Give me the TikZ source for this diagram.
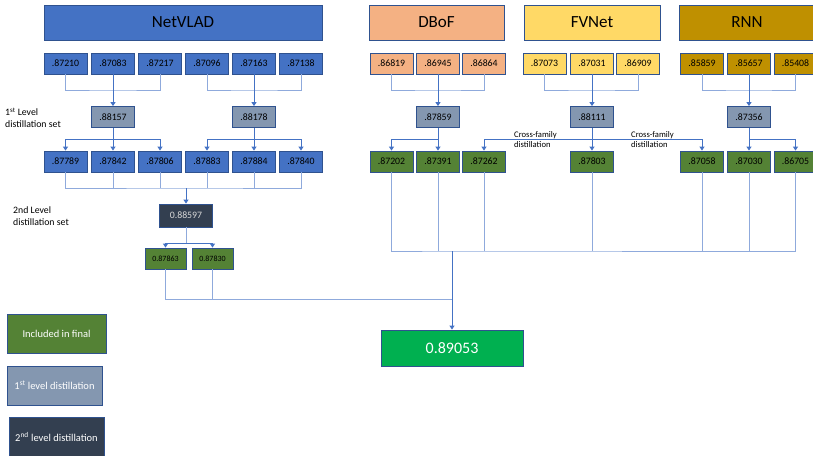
\documentclass[tikz,border=0pt]{standalone}
\usepackage{fontspec}
\setmainfont{Carlito}
\usetikzlibrary{arrows.meta}
\definecolor{netblue}{HTML}{4472C4}
\definecolor{dbofor}{HTML}{F4B183}
\definecolor{fvyel}{HTML}{FFD966}
\definecolor{rnngold}{HTML}{BF9000}
\definecolor{distgrey}{HTML}{8497B0}
\definecolor{distdark}{HTML}{333F50}
\definecolor{inclgreen}{HTML}{548235}
\definecolor{finalgreen}{HTML}{00B050}
\definecolor{edgeblue}{HTML}{2F528F}
\definecolor{wireblue}{HTML}{8FAADC}

\begin{document}
\begin{tikzpicture}[x=1pt,y=-1pt,
  box/.style={draw=edgeblue,line width=0.8pt,minimum width=43pt,minimum height=21pt,inner sep=0pt,font=\fontsize{9.8}{12}\selectfont},
  head/.style={draw=edgeblue,line width=0.8pt,minimum width=136pt,minimum height=35pt,inner sep=0pt,font=\fontsize{17}{20}\selectfont},
  wire/.style={draw=wireblue,line width=0.8pt},
  feed/.style={draw=netblue,line width=1pt,-{Triangle[length=4pt,width=5pt]}},
  note/.style={align=left,anchor=west,inner sep=0pt,font=\fontsize{9.8}{11.5}\selectfont},
  legend/.style={box,text=white,minimum width=95pt,minimum height=39pt,font=\fontsize{10.5}{12}\selectfont}]
\useasboundingbox (0,0) rectangle (813,455);
%HEADERS
\node[head,fill=netblue,minimum width=278pt] (hnet) at (183,22.5) {NetVLAD};
\node[head,fill=dbofor,minimum width=135pt] (hdbof) at (436.5,22.5) {DBoF};
\node[head,fill=fvyel] (hfv) at (592,22.5) {FVNet};
\node[head,fill=rnngold] (hrnn) at (747,22.5) {RNN};
%NetVLAD
\node[box,fill=netblue] (n1) at (65.5,63.5) {.87210};
\node[box,fill=netblue] (n2) at (113,63.5) {.87083};
\node[box,fill=netblue] (n3) at (160,63.5) {.87217};
\node[box,fill=netblue] (n4) at (207,63.5) {.87096};
\node[box,fill=netblue] (n5) at (254,63.5) {.87163};
\node[box,fill=netblue] (n6) at (301,63.5) {.87138};
\node[box,fill=distgrey] (nd1) at (113,117) {.88157};
\node[box,fill=distgrey] (nd2) at (254,117) {.88178};
\node[box,fill=netblue] (nf1) at (65.5,161.5) {.87789};
\node[box,fill=netblue] (nf2) at (113,161.5) {.87842};
\node[box,fill=netblue] (nf3) at (160,161.5) {.87806};
\node[box,fill=netblue] (nf4) at (207,161.5) {.87883};
\node[box,fill=netblue] (nf5) at (254,161.5) {.87884};
\node[box,fill=netblue] (nf6) at (301,161.5) {.87840};
%DBoF
\node[box,fill=dbofor] (d1) at (391.5,63.5) {.86819};
\node[box,fill=dbofor] (d2) at (438,63.5) {.86945};
\node[box,fill=dbofor] (d3) at (484,63.5) {.86864};
\node[box,fill=distgrey] (dd) at (438,117) {.87859};
\node[box,fill=inclgreen] (df1) at (391.5,161.5) {.87202};
\node[box,fill=inclgreen] (df2) at (438,161.5) {.87391};
\node[box,fill=inclgreen] (df3) at (484,161.5) {.87262};
%FVNet
\node[box,fill=fvyel] (f1) at (544.5,63.5) {.87073};
\node[box,fill=fvyel] (f2) at (592,63.5) {.87031};
\node[box,fill=fvyel] (f3) at (638,63.5) {.86909};
\node[box,fill=distgrey] (fd) at (592,117) {.88111};
\node[box,fill=inclgreen] (ff) at (592,161.5) {.87803};
%RNN
\node[box,fill=rnngold] (r1) at (702,63.5) {.85859};
\node[box,fill=rnngold] (r2) at (749,63.5) {.85657};
\node[box,fill=rnngold] (r3) at (795.5,63.5) {.85408};
\node[box,fill=distgrey] (rd) at (749,117) {.87356};
\node[box,fill=inclgreen] (rf1) at (702,161.5) {.87058};
\node[box,fill=inclgreen] (rf2) at (749,161.5) {.87030};
\node[box,fill=inclgreen] (rf3) at (795.5,161.5) {.86705};
%2nd level
\node[box,fill=distdark,text=black!15,minimum width=53pt,minimum height=23pt] (n2nd) at (186,215.5) {0.88597};
\node[box,fill=inclgreen,minimum width=41pt,font=\fontsize{8}{9}\selectfont] (ns1) at (165.5,258.5) {0.87863};
\node[box,fill=inclgreen,minimum width=41pt,font=\fontsize{8}{9}\selectfont] (ns2) at (212.5,258.5) {0.87830};
%final
\node[box,fill=finalgreen,text=white,minimum width=142pt,minimum height=36pt,font=\fontsize{16}{19}\selectfont] (final) at (452,348) {0.89053};
%labels
\node[note] (lab1) at (5,117.5) {1\textsuperscript{st} Level\\distillation set};
\node[note] (lab2) at (13,216) {2nd Level\\distillation set};
\node[note,font=\fontsize{8.6}{10}\selectfont] (xlab1) at (514,139.5) {Cross-family\\distillation};
\node[note,font=\fontsize{8.6}{10}\selectfont] (xlab2) at (631,139.5) {Cross-family\\distillation};
%legend
\node[legend,fill=inclgreen,minimum width=99pt] (leg1) at (56.5,333.5) {Included in final};
\node[legend,fill=distgrey] (leg2) at (54.5,385.5) {1\textsuperscript{st} level distillation};
\node[legend,fill=distdark,minimum height=40pt] (leg3) at (56.5,437) {2\textsuperscript{nd} level distillation};
%junctions
\coordinate (busA) at (113,90);
\coordinate (busB) at (254,90);
\coordinate (busD) at (438,90);
\coordinate (busF) at (592,90);
\coordinate (busR) at (749,90);
\coordinate (fanA) at (113,139);
\coordinate (fanB) at (254,139);
\coordinate (fanD) at (438,139);
\coordinate (fanF) at (592,139);
\coordinate (fanR) at (749,139);
\coordinate (merge) at (186,188);
\coordinate (fan2) at (186,243);
\coordinate (trunk) at (452,251);
\coordinate (join) at (452,299);
%first level
\draw[wire] (n1.south) |- (busA) -| (n3.south);
\draw[wire] (n4.south) |- (busB) -| (n6.south);
\draw[wire] (d1.south) |- (busD) -| (d3.south);
\draw[wire] (f1.south) |- (busF) -| (f3.south);
\draw[wire] (r1.south) |- (busR) -| (r3.south);
\draw[feed] (n2.south) -- (nd1.north);
\draw[feed] (n5.south) -- (nd2.north);
\draw[feed] (d2.south) -- (dd.north);
\draw[feed] (f2.south) -- (fd.north);
\draw[feed] (r2.south) -- (rd.north);
%fan out
\draw[feed] (nd1.south) -- (nf2.north);
\draw[feed] (fanA) -| (nf1.north);
\draw[feed] (fanA) -| (nf3.north);
\draw[feed] (nd2.south) -- (nf5.north);
\draw[feed] (fanB) -| (nf4.north);
\draw[feed] (fanB) -| (nf6.north);
\draw[feed] (dd.south) -- (df2.north);
\draw[feed] (fanD) -| (df1.north);
\draw[feed] (fd.south) -- (ff.north);
\draw[feed] (fanF) -| (df3.north);
\draw[feed] (fanF) -| (rf1.north);
\draw[feed] (rd.south) -- (rf2.north);
\draw[feed] (fanR) -| (rf3.north);
%second level
\draw[wire] (nf1.south) |- (merge) -| (nf6.south);
\draw[wire] (nf2.south) -- (nf2.south |- merge);
\draw[wire] (nf3.south) -- (nf3.south |- merge);
\draw[wire] (nf4.south) -- (nf4.south |- merge);
\draw[wire] (nf5.south) -- (nf5.south |- merge);
\draw[feed] (merge) -- (n2nd.north);
\draw[wire] (n2nd.south) -- (fan2);
\draw[feed] (fan2) -| (ns1.north);
\draw[feed] (fan2) -| (ns2.north);
%to final
\draw[wire] (df1.south) |- (trunk) -| (rf3.south);
\draw[wire] (df2.south) -- (df2.south |- trunk);
\draw[wire] (df3.south) -- (df3.south |- trunk);
\draw[wire] (ff.south) -- (ff.south |- trunk);
\draw[wire] (rf1.south) -- (rf1.south |- trunk);
\draw[wire] (rf2.south) -- (rf2.south |- trunk);
\draw[wire] (ns1.south) |- (join);
\draw[wire] (ns2.south) -- (ns2.south |- join);
\draw[feed] (trunk) -- (final.north);
\end{tikzpicture}
\end{document}
